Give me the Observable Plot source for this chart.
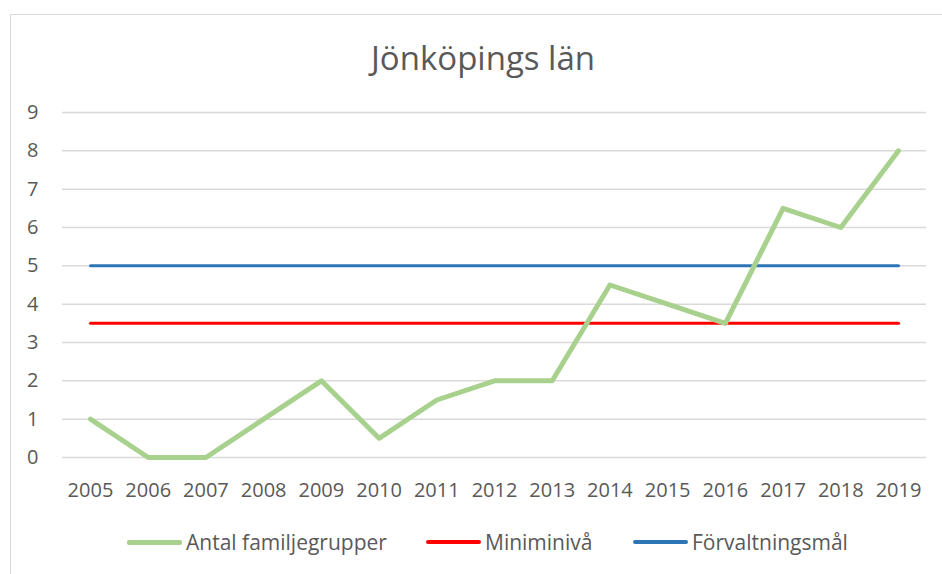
<!DOCTYPE html>
<html>
<head>
<meta charset="utf-8">
<script src="https://cdn.jsdelivr.net/npm/d3@7"></script>
<script src="https://cdn.jsdelivr.net/npm/@observablehq/plot@0.6"></script>
<style>
  html, body { margin: 0; padding: 0; background: #fff; }
  #wrap { position: relative; width: 942px; height: 574px; overflow: hidden; font-family: "Open Sans", sans-serif; color: #595959; }
  #frame { position: absolute; left: 10px; top: 14px; width: 960px; height: 600px; border: 1.5px solid #d9d9d9; box-sizing: border-box; }
  #title { position: absolute; left: 0; width: 966px; top: 37px; text-align: center; font-size: 33px; line-height: 42px; }
  #chart { position: absolute; left: 0; top: 80px; }
  .leg { position: absolute; top: 529px; display: flex; align-items: center; font-size: 21px; line-height: 26px; }
  .leg span.sw { display: inline-block; width: 55px; height: 4px; border-radius: 2px; margin-right: 4px; }
</style>
</head>
<body>
<div id="wrap">
  <div id="frame"></div>
  <div id="title">Jönköpings län</div>
  <div id="chart"></div>
  <div id="legend"></div>
</div>
<script>
const years = ["2005","2006","2007","2008","2009","2010","2011","2012","2013","2014","2015","2016","2017","2018","2019"];
const antal = [1, 0, 0, 1, 2, 0.5, 1.5, 2, 2, 4.5, 4, 3.5, 6.5, 6, 8];
const miniminiva = [3.5,3.5,3.5,3.5,3.5,3.5,3.5,3.5,3.5,3.5,3.5,3.5,3.5,3.5,3.5];
const forvaltningsmal = [5,5,5,5,5,5,5,5,5,5,5,5,5,5,5];
const yTicks = [0,1,2,3,4,5,6,7,8,9];
const seriesNames = ["Antal familjegrupper", "Miniminivå", "Förvaltningsmål"];
const seriesColors = ["#a9d18e", "#ff0000", "#2e75b6"];

const rows = (vals) => years.map((y, i) => ({year: y, value: vals[i]}));

const plot = Plot.plot({
  width: 942,
  height: 420,
  marginLeft: 62,
  marginRight: 16,
  marginTop: 32,
  marginBottom: 43,
  style: {fontFamily: "Open Sans, sans-serif", fontSize: "20px", color: "#595959", background: "transparent", overflow: "visible"},
  x: {type: "point", domain: years, padding: 0.485, round: false, label: null, tickSize: 0, tickPadding: 25},
  y: {domain: [0, 9], ticks: yTicks, label: null, tickSize: 0, tickPadding: 24},
  marks: [
    Plot.ruleY(yTicks, {stroke: "#d9d9d9", strokeWidth: 1.5}),
    Plot.line(rows(forvaltningsmal), {x: "year", y: "value", stroke: seriesColors[2], strokeWidth: 3, strokeLinecap: "round"}),
    Plot.line(rows(miniminiva), {x: "year", y: "value", stroke: seriesColors[1], strokeWidth: 3, strokeLinecap: "round"}),
    Plot.line(rows(antal), {x: "year", y: "value", stroke: seriesColors[0], strokeWidth: 5, strokeLinecap: "round", strokeLinejoin: "round"})
  ]
});
plot.querySelectorAll("[aria-label='x-axis tick label'] text, [aria-label='y-axis tick label'] text").forEach(t => t.setAttribute("fill", "#595959"));
document.getElementById("chart").appendChild(plot);

const legendX = [127, 426, 633];
const legend = document.getElementById("legend");
seriesNames.forEach((name, i) => {
  const d = document.createElement("div");
  d.className = "leg";
  d.style.left = legendX[i] + "px";
  const sw = document.createElement("span");
  sw.className = "sw";
  sw.style.background = seriesColors[i];
  if (i === 0) { sw.style.height = "5px"; }
  d.appendChild(sw);
  d.appendChild(document.createTextNode(name));
  legend.appendChild(d);
});
</script>
</body>
</html>
